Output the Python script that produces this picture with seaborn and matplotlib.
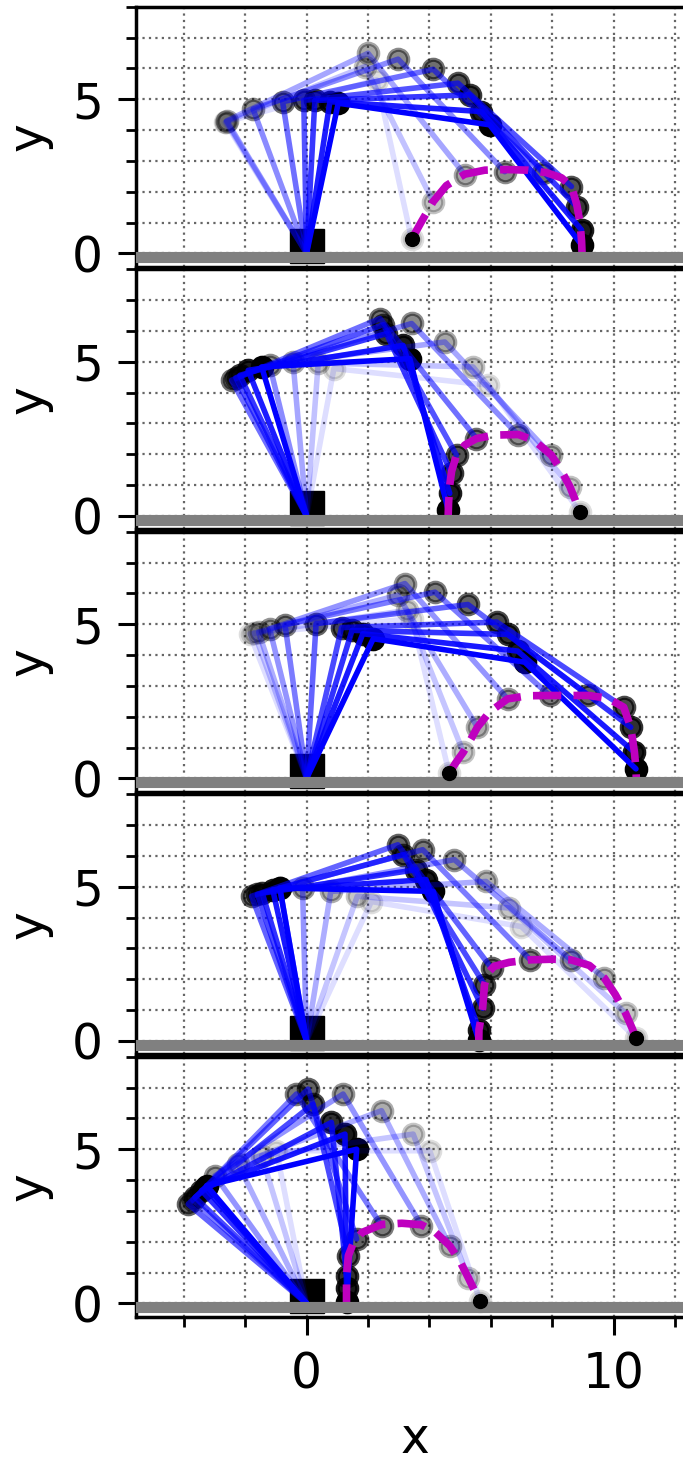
import numpy as np
import pandas as pd
import matplotlib
matplotlib.use("Agg")
import matplotlib.pyplot as plt
import seaborn as sns
from matplotlib.ticker import FixedLocator, MultipleLocator

# ---------------- data ----------------
base_x, base_y = 0.0, 0.0          # arm base joint
block_x, block_y = [0.0], [0.25]   # black base block

# Panel 1 (poses ordered light -> dark)
p1_elbow_x = [-2.65, -2.62, -2.60, -1.74, -0.78, -0.09, 0.27, 0.76, 1.03]
p1_elbow_y = [4.25, 4.27, 4.30, 4.68, 4.92, 4.96, 4.96, 4.92, 4.87]
p1_knee_x = [2.28, 1.90, 2.00, 2.98, 4.12, 4.93, 5.31, 5.69, 5.96]
p1_knee_y = [5.63, 6.06, 6.49, 6.30, 5.97, 5.52, 5.14, 4.60, 4.17]
p1_foot_x = [3.42, 4.12, 5.15, 6.45, 7.70, 8.62, 8.79, 8.95, 8.95]
p1_foot_y = [0.46, 1.68, 2.55, 2.65, 2.60, 2.17, 1.52, 0.76, 0.28]
p1_traj_x = [3.42, 3.75, 4.12, 4.55, 5.15, 5.80, 6.50, 7.20, 7.80, 8.30, 8.62, 8.79, 8.90, 8.95, 8.97]
p1_traj_y = [0.46, 1.05, 1.68, 2.20, 2.57, 2.70, 2.72, 2.70, 2.62, 2.45, 2.17, 1.60, 1.00, 0.40, -0.10]

# Panel 2
p2_elbow_x = [0.89, 0.38, -0.44, -1.20, -2.44, -2.30, -2.17, -1.90, -1.46]
p2_elbow_y = [4.78, 4.96, 4.99, 4.88, 4.40, 4.48, 4.56, 4.72, 4.83]
p2_knee_x = [5.91, 5.42, 4.50, 3.42, 2.39, 2.50, 2.60, 3.14, 3.36]
p2_knee_y = [4.24, 4.83, 5.64, 6.24, 6.40, 6.20, 5.91, 5.53, 5.10]
p2_foot_x = [8.89, 8.57, 7.97, 6.89, 5.53, 4.88, 4.72, 4.66, 4.61]
p2_foot_y = [0.14, 0.95, 1.97, 2.62, 2.51, 1.97, 1.38, 0.73, 0.19]
p2_traj_x = [4.60, 4.62, 4.66, 4.72, 4.88, 5.15, 5.53, 6.10, 6.89, 7.40, 7.97, 8.30, 8.57, 8.75, 8.89]
p2_traj_y = [-0.30, 0.40, 1.00, 1.45, 1.97, 2.30, 2.51, 2.62, 2.64, 2.45, 1.97, 1.45, 0.95, 0.50, 0.10]

# Panel 3
p3_elbow_x = [-1.85, -1.70, -1.56, -1.20, -0.70, 0.31, 1.14, 1.48, 1.83, 2.17]
p3_elbow_y = [4.69, 4.72, 4.75, 4.85, 4.98, 5.02, 4.89, 4.80, 4.69, 4.53]
p3_knee_x = [3.43, 3.26, 2.97, 3.20, 4.18, 5.25, 6.19, 6.55, 6.87, 7.10]
p3_knee_y = [5.18, 5.45, 5.94, 6.32, 6.04, 5.64, 5.07, 4.67, 4.13, 3.77]
p3_foot_x = [4.64, 5.10, 5.56, 6.54, 7.91, 9.17, 10.32, 10.55, 10.67, 10.72]
p3_foot_y = [0.17, 0.85, 1.66, 2.58, 2.69, 2.69, 2.31, 1.66, 0.85, 0.31]
p3_traj_x = [4.64, 4.85, 5.10, 5.35, 5.56, 5.95, 6.54, 7.20, 7.91, 8.60, 9.17, 9.80, 10.32, 10.55, 10.67, 10.72, 10.74]
p3_traj_y = [0.17, 0.50, 0.85, 1.28, 1.66, 2.15, 2.58, 2.68, 2.69, 2.69, 2.69, 2.60, 2.31, 1.66, 0.85, 0.31, -0.30]

# Panel 4
p4_elbow_x = [2.11, 1.65, 0.79, -0.13, -0.87, -1.79, -1.60, -1.44, -1.10, -0.87]
p4_elbow_y = [4.52, 4.69, 4.85, 4.96, 4.96, 4.69, 4.75, 4.79, 4.90, 4.96]
p4_knee_x = [6.99, 6.59, 5.84, 4.81, 3.78, 2.97, 3.15, 3.55, 3.89, 4.12]
p4_knee_y = [3.71, 4.31, 5.17, 5.88, 6.20, 6.36, 6.04, 5.55, 5.23, 4.85]
p4_foot_x = [10.72, 10.38, 9.69, 8.60, 7.28, 6.02, 5.79, 5.73, 5.61, 5.60]
p4_foot_y = [0.09, 0.90, 2.04, 2.63, 2.63, 2.36, 1.82, 1.06, 0.36, 0.02]
p4_traj_x = [5.60, 5.61, 5.73, 5.79, 5.90, 6.10, 6.60, 7.28, 8.00, 8.60, 9.20, 9.69, 10.05, 10.38, 10.60, 10.72]
p4_traj_y = [-0.30, 0.36, 1.06, 1.82, 2.20, 2.42, 2.55, 2.63, 2.65, 2.63, 2.45, 2.04, 1.50, 0.90, 0.40, 0.09]

# Panel 5
p5_elbow_x = [-0.98, -1.46, -2.23, -2.98, -3.70, -3.85, -3.63, -3.42, -3.30, -3.25]
p5_elbow_y = [4.95, 4.79, 4.52, 4.14, 3.35, 3.22, 3.44, 3.66, 3.75, 3.82]
p5_knee_x = [4.01, 3.47, 2.44, 1.19, -0.33, 0.05, 0.21, 0.81, 1.25, 1.63]
p5_knee_y = [4.95, 5.49, 6.25, 6.79, 6.79, 6.95, 6.46, 5.87, 5.49, 5.00]
p5_foot_x = [5.64, 5.26, 4.66, 3.74, 2.44, 1.63, 1.36, 1.30, 1.30, 1.30]
p5_foot_y = [0.09, 0.84, 1.87, 2.52, 2.52, 2.09, 1.55, 0.90, 0.50, 0.05]
p5_traj_x = [1.30, 1.30, 1.30, 1.36, 1.50, 1.80, 2.44, 3.10, 3.74, 4.20, 4.66, 5.00, 5.26, 5.45, 5.64]
p5_traj_y = [-0.30, 0.40, 0.90, 1.55, 1.90, 2.30, 2.56, 2.60, 2.55, 2.30, 1.87, 1.35, 0.84, 0.45, 0.09]

x_major = [0, 10]
y_major = [0, 5]
ground_y = -0.13

panels = [
    (p1_elbow_x, p1_elbow_y, p1_knee_x, p1_knee_y, p1_foot_x, p1_foot_y, p1_traj_x, p1_traj_y),
    (p2_elbow_x, p2_elbow_y, p2_knee_x, p2_knee_y, p2_foot_x, p2_foot_y, p2_traj_x, p2_traj_y),
    (p3_elbow_x, p3_elbow_y, p3_knee_x, p3_knee_y, p3_foot_x, p3_foot_y, p3_traj_x, p3_traj_y),
    (p4_elbow_x, p4_elbow_y, p4_knee_x, p4_knee_y, p4_foot_x, p4_foot_y, p4_traj_x, p4_traj_y),
    (p5_elbow_x, p5_elbow_y, p5_knee_x, p5_knee_y, p5_foot_x, p5_foot_y, p5_traj_x, p5_traj_y),
]

# ---------------- style ----------------
sns.set_style("white")
plt.rcParams["font.family"] = ["DejaVu Sans"]
plt.rcParams["text.color"] = "black"
plt.rcParams["axes.labelcolor"] = "black"
plt.rcParams["xtick.color"] = "black"
plt.rcParams["ytick.color"] = "black"

W, H, DPI = 683, 1462, 100
fig = plt.figure(figsize=(W / DPI, H / DPI), dpi=DPI)

left_px = 136.0
xlim = (-5.55, 12.6)
ylim = (-0.43, 8.0)
px_per_x = 30.73
ax_w_px = (xlim[1] - xlim[0]) * px_per_x
ax_h_px = 260.0
top0 = 6.7
pitch = 262.5

for k, (ex, ey, kx, ky, fx, fy, tx, ty) in enumerate(panels):
    top = top0 + pitch * k
    ax = fig.add_axes([left_px / W, 1 - (top + ax_h_px) / H, ax_w_px / W, ax_h_px / H])
    ax.set_facecolor("white")
    n = len(ex)
    alphas = np.linspace(0.13, 1.0, n)

    # base block
    ax.plot(block_x, block_y, ls="none", marker="s", ms=24, color="k", zorder=2)

    # joint markers
    for i in range(n):
        ax.plot([ex[i], kx[i], fx[i]], [ey[i], ky[i], fy[i]], ls="none",
                marker="o", ms=14, mfc="k", mec="k", mew=3, alpha=alphas[i], zorder=3)
    # links
    for i in range(n):
        ax.plot([base_x, ex[i], kx[i], fx[i]], [base_y, ey[i], ky[i], fy[i]],
                color="blue", lw=4, alpha=alphas[i], solid_capstyle="round", zorder=4)

    # foot trajectory
    df = pd.DataFrame({"x": tx, "y": ty})
    sns.lineplot(data=df, x="x", y="y", sort=False, estimator=None, ax=ax,
                 color=(0.75, 0, 0.75), lw=5.5, linestyle="--", zorder=5)

    # ground
    ax.axhline(ground_y, color="gray", lw=8, zorder=6)
    # target foot point
    ax.plot([fx[0]], [fy[0]], ls="none", marker="o", ms=10, color="k", zorder=7)

    ax.set_xlim(*xlim)
    ax.set_ylim(*ylim)
    ax.xaxis.set_major_locator(FixedLocator(x_major))
    ax.xaxis.set_minor_locator(MultipleLocator(2))
    ax.yaxis.set_major_locator(FixedLocator(y_major))
    ax.yaxis.set_minor_locator(MultipleLocator(1))
    ax.set_axisbelow(True)
    ax.grid(True, which="both", ls=(0, (1, 1.9)), color="0.4", lw=1.6)

    ax.tick_params(which="major", direction="out", length=13, width=2.2, colors="black",
                   labelsize=35, pad=11, left=True, bottom=True, top=False, right=False)
    ax.tick_params(which="minor", direction="out", length=7, width=2, colors="black",
                   left=True, bottom=True, top=False, right=False)
    for s in ["left", "top", "bottom"]:
        ax.spines[s].set_visible(True)
        ax.spines[s].set_linewidth(2.5)
        ax.spines[s].set_color("k")
    ax.spines["right"].set_visible(False)

    ax.set_ylabel("y", fontsize=35, labelpad=14, color="black")
    if k < len(panels) - 1:
        ax.tick_params(labelbottom=False)
        ax.set_xlabel("")
    else:
        ax.set_xlabel("x", fontsize=35, labelpad=12, color="black")

fig.savefig("out.png", dpi=DPI)
